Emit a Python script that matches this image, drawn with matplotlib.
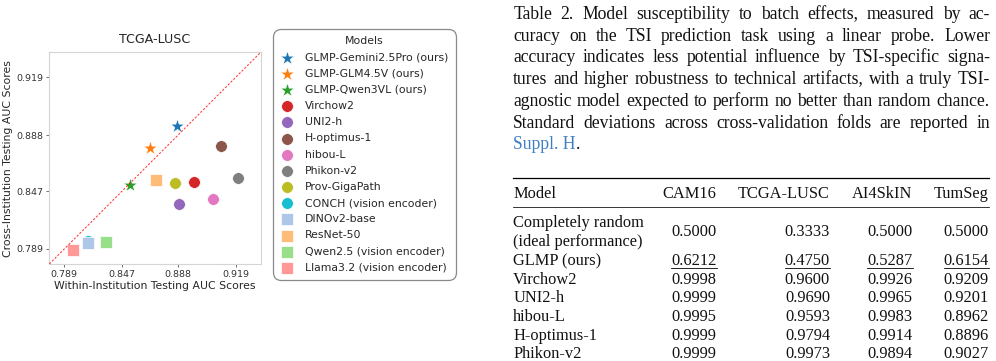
import numpy as np
import matplotlib
matplotlib.use("Agg")
import matplotlib.pyplot as plt

# ---- scatter data: TCGA-LUSC AUC ----
model_names = ["GLMP-Gemini2.5Pro (ours)", "GLMP-GLM4.5V (ours)", "GLMP-Qwen3VL (ours)",
               "Virchow2", "UNI2-h", "H-optimus-1", "hibou-L", "Phikon-v2", "Prov-GigaPath",
               "CONCH (vision encoder)", "DINOv2-base", "ResNet-50",
               "Qwen2.5 (vision encoder)", "Llama3.2 (vision encoder)"]
within_auc = [0.8877, 0.8690, 0.8540, 0.8977, 0.8890, 0.9118, 0.9078, 0.9200, 0.8863,
              0.8155, 0.8154, 0.8732, 0.8330, 0.7993]
cross_auc = [0.8936, 0.8800, 0.8520, 0.8547, 0.8358, 0.8811, 0.8400, 0.8579, 0.8536,
             0.7982, 0.7963, 0.8563, 0.7967, 0.7878]
tick_vals = [0.789, 0.847, 0.888, 0.919]
tick_labels = ["0.789", "0.847", "0.888", "0.919"]

marker_list = ["*"] * 3 + ["o"] * 7 + ["s"] * 4
color_list = ["#1f77b4", "#ff7f0e", "#2ca02c",
              "#d62728", "#9467bd", "#8c564b", "#e377c2", "#7f7f7f", "#bcbd22", "#17becf",
              "#aec7e8", "#ffbb78", "#98df8a", "#ff9896"]

# ---- caption + table ----
caption_lines = [
    "Table 2.  Model susceptibility to batch effects, measured by ac-",
    "curacy on the TSI prediction task using a linear probe.  Lower",
    "accuracy indicates less potential influence by TSI-specific signa-",
    "tures and higher robustness to technical artifacts, with a truly TSI-",
    "agnostic model expected to perform no better than random chance.",
    "Standard deviations across cross-validation folds are reported in",
]
caption_link = "Suppl. H"

table_header = ["Model", "CAM16", "TCGA-LUSC", "AI4SkIN", "TumSeg"]
table_models = ["Completely random\n(ideal performance)", "GLMP (ours)", "Virchow2", "UNI2-h",
                "hibou-L", "H-optimus-1", "Phikon-v2"]
cam16 = [0.5000, 0.6212, 0.9998, 0.9999, 0.9995, 0.9999, 0.9999]
tcga_lusc = [0.3333, 0.4750, 0.9600, 0.9690, 0.9593, 0.9794, 0.9973]
ai4skin = [0.5000, 0.5287, 0.9926, 0.9965, 0.9983, 0.9914, 0.9894]
tumseg = [0.5000, 0.6154, 0.9209, 0.9201, 0.8962, 0.8896, 0.9027]

W, H = 996, 361
fig = plt.figure(figsize=(W / 100, H / 100), dpi=100)
txt = "#262626"

# ---------------- scatter plot ----------------
ax = fig.add_axes([49.3 / W, 1 - 264 / H, 211.4 / W, 211.7 / H])
fwd = lambda v: -np.log(np.clip(1 - np.asarray(v, float), 1e-9, None))
inv = lambda t: 1 - np.exp(-np.asarray(t, float))
ax.set_xscale("function", functions=(fwd, inv))
ax.set_yscale("function", functions=(fwd, inv))
lim = (0.7705, 0.9295)
ax.set_xlim(lim)
ax.set_ylim(lim)

for i in range(len(model_names)):
    size = 120 if marker_list[i] == "*" else 72
    ax.scatter(within_auc[i], cross_auc[i], marker=marker_list[i], s=size, color=color_list[i],
               edgecolors="white", linewidths=0.5, label=model_names[i], zorder=2)

ax.plot(lim, lim, ls=(0, (2, 1.5)), color="red", lw=0.8, alpha=0.75, zorder=3)

ax.set_xticks(tick_vals)
ax.set_xticklabels(tick_labels)
ax.set_yticks(tick_vals)
ax.set_yticklabels(tick_labels)
ax.minorticks_off()
ax.tick_params(labelsize=6.8, length=2.2, width=0.6, color="#555555", labelcolor="#333333", pad=2)
for sp in ax.spines.values():
    sp.set_color("#d5d5d5")
    sp.set_linewidth(0.8)
ax.set_title("TCGA-LUSC", fontsize=9.1, color=txt, pad=7)
ax.set_xlabel("Within-Institution Testing AUC Scores", fontsize=7.8, color=txt, labelpad=1.5)
ax.set_ylabel("Cross-Institution Testing AUC Scores", fontsize=7.8, color=txt, labelpad=2.5)

leg = ax.legend(title="Models", loc="upper left", bbox_to_anchor=(273.3 / W, 1 - 29.3 / H),
                bbox_transform=fig.transFigure, borderaxespad=0, fontsize=7.8, title_fontsize=7.8,
                handlelength=1.3, handletextpad=1.0, labelspacing=0.57, borderpad=0.65,
                frameon=True, framealpha=1, edgecolor="#8a8a8a")
leg.get_frame().set_linewidth(0.9)
leg.get_frame().set_boxstyle("round", pad=0, rounding_size=0.7)
for t in leg.get_texts():
    t.set_color(txt)
leg.get_title().set_color(txt)

# ---------------- caption + table ----------------
tax = fig.add_axes([0, 0, 1, 1], zorder=-1)
tax.set_xlim(0, W)
tax.set_ylim(H, 0)
tax.axis("off")
renderer = fig.canvas.get_renderer()
serif = "Liberation Serif"
cap_fs = 12.7
tab_fs = 11.8
x0, x1 = 513.3, 990

def justify(line, y):
    words = [w for w in line.split(" ") if w != ""]
    arts = [tax.text(x0, y, w, fontsize=cap_fs, family=serif, va="baseline", color="#111111")
            for w in words]
    widths = [a.get_window_extent(renderer).width for a in arts]
    gap = max((x1 - x0 - sum(widths)) / (len(arts) - 1), 2.0)
    x = x0
    for a, w in zip(arts, widths):
        a.set_x(x)
        x += w + gap

cap_base = 19.0
cap_step = 21.7
for k, line in enumerate(caption_lines):
    justify(line, cap_base + k * cap_step)
yl = cap_base + len(caption_lines) * cap_step
link = tax.text(x0, yl, caption_link, fontsize=cap_fs, family=serif, va="baseline", color="#3d7fc1")
lw_ = link.get_window_extent(renderer).width
tax.text(x0 + lw_, yl, ".", fontsize=cap_fs, family=serif, va="baseline", color="#111111")

col_right = [716.7, 830, 912.7, 989]
tax.plot([x0, 989], [178.3, 178.3], color="black", lw=0.9)
tax.plot([x0, 989], [206.5, 206.5], color="black", lw=0.55)
tax.text(x0, 198.3, table_header[0], fontsize=tab_fs, family=serif, va="baseline", color="#111111")
for c, name in enumerate(table_header[1:]):
    tax.text(col_right[c], 198.3, name, fontsize=tab_fs, family=serif, va="baseline", ha="right",
             color="#111111")

row_base = [236.5, 265.0, 283.7, 302.4, 321.1, 339.8, 358.5]
columns = [cam16, tcga_lusc, ai4skin, tumseg]
for r, name in enumerate(table_models):
    if "\n" in name:
        first, second = name.split("\n")
        tax.text(x0, 227.0, first, fontsize=tab_fs, family=serif, va="baseline", color="#111111")
        tax.text(x0, 246.0, second, fontsize=tab_fs, family=serif, va="baseline", color="#111111")
    else:
        tax.text(x0, row_base[r], name, fontsize=tab_fs, family=serif, va="baseline", color="#111111")
    for c, col in enumerate(columns):
        t = tax.text(col_right[c], row_base[r], f"{col[r]:.4f}", fontsize=tab_fs, family=serif,
                     va="baseline", ha="right", color="#111111")
        if name.startswith("GLMP"):
            w = t.get_window_extent(renderer).width
            tax.plot([col_right[c] - w, col_right[c]], [row_base[r] + 2.6] * 2, color="black", lw=0.6)

fig.savefig("out.png", dpi=100)
